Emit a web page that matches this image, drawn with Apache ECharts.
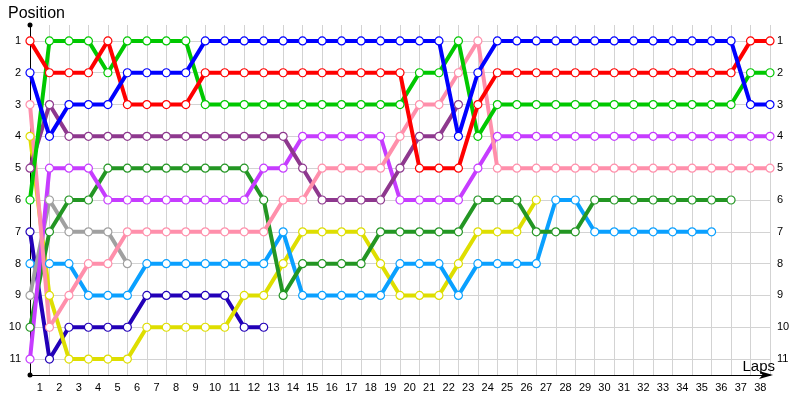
<!DOCTYPE html>
<html><head><meta charset="utf-8">
<script src="https://cdn.jsdelivr.net/npm/echarts@6/dist/echarts.min.js"></script>
<style>html,body{margin:0;padding:0;background:#fff}#c{width:800px;height:400px}</style>
</head><body><div id="c"></div><script>
const lapLabels = ['1','2','3','4','5','6','7','8','9','10','11','12','13','14','15','16','17','18','19','20','21','22','23','24','25','26','27','28','29','30','31','32','33','34','35','36','37','38'];
const positionLabels = ['1','2','3','4','5','6','7','8','9','10','11'];

// positions per lap, starting at lap 0
const indigo    = [7,11,10,10,10,10,9,9,9,9,9,10,10];
const yellow    = [4,9,11,11,11,11,10,10,10,10,10,9,9,8,7,7,7,7,8,9,9,9,8,7,7,7,6];
const lightBlue = [8,8,8,9,9,9,8,8,8,8,8,8,8,7,9,9,9,9,9,8,8,8,9,8,8,8,8,6,6,7,7,7,7,7,7,7];
const gray      = [9,6,7,7,7,8];
const darkGreen = [10,7,6,6,5,5,5,5,5,5,5,5,6,9,8,8,8,8,7,7,7,7,7,6,6,6,7,7,7,6,6,6,6,6,6,6,6];
const magenta   = [11,5,5,5,6,6,6,6,6,6,6,6,5,5,4,4,4,4,4,6,6,6,6,5,4,4,4,4,4,4,4,4,4,4,4,4,4,4,4];
const purple    = [5,3,4,4,4,4,4,4,4,4,4,4,4,4,5,6,6,6,6,5,4,4,3];
const pink      = [3,10,9,8,8,7,7,7,7,7,7,7,7,6,6,5,5,5,5,4,3,3,2,1,5,5,5,5,5,5,5,5,5,5,5,5,5,5,5];
const green     = [6,1,1,1,2,1,1,1,1,3,3,3,3,3,3,3,3,3,3,3,2,2,1,4,3,3,3,3,3,3,3,3,3,3,3,3,3,2,2];
const red       = [1,2,2,2,1,3,3,3,3,2,2,2,2,2,2,2,2,2,2,2,5,5,5,3,2,2,2,2,2,2,2,2,2,2,2,2,2,1,1];
const blue      = [2,4,3,3,3,2,2,2,2,1,1,1,1,1,1,1,1,1,1,1,1,1,4,2,1,1,1,1,1,1,1,1,1,1,1,1,1,3,3];

const drivers = [
  {data: indigo, color: '#2200b8'},
  {data: yellow, color: '#dede00'},
  {data: lightBlue, color: '#0aa0ff'},
  {data: gray, color: '#a0a0a0'},
  {data: darkGreen, color: '#239623'},
  {data: magenta, color: '#c63cff'},
  {data: purple, color: '#8e388e'},
  {data: pink, color: '#ff8fab'},
  {data: green, color: '#00c800'},
  {data: red, color: '#ff0000'},
  {data: blue, color: '#0000ff'}
];

const FONT = 'Liberation Sans';
const chart = echarts.init(document.getElementById('c'), null, {renderer: 'canvas'});
const series = drivers.map(d => ({
  type: 'line',
  xAxisIndex: 0, yAxisIndex: 0,
  data: d.data.map((p, i) => [i, p]),
  symbol: 'circle', symbolSize: 8, showAllSymbol: true,
  lineStyle: {color: d.color, width: 4},
  itemStyle: {color: '#ffffff', borderColor: d.color, borderWidth: 1.2},
  emphasis: {disabled: true},
  silent: true
}));

const yCommon = {
  type: 'value', min: 0.5, max: 11.5, interval: 0.5, inverse: true
};
const intFmt = v => (Math.abs(v - Math.round(v)) < 1e-6 && v >= 1 && v <= 11) ? positionLabels[Math.round(v) - 1] : '';

chart.setOption({
  animation: false,
  title: [
    {text: 'Position', left: 3, top: 1, textStyle: {fontFamily: FONT, fontSize: 16, fontWeight: 'normal', color: '#000'}},
    {text: 'Laps', right: 25, bottom: 26, padding: 0, textStyle: {fontFamily: FONT, fontSize: 15, fontWeight: 'normal', color: '#000'}}
  ],
  grid: {left: 30, right: 30, top: 25, bottom: 25, containLabel: false, outerBoundsMode: 'none'},
  xAxis: [
    {type: 'value', min: 0, max: 38, interval: 1, position: 'bottom',
     axisLine: {onZero: false, lineStyle: {color: '#000', width: 1}, symbol: ['none', 'arrow'], symbolSize: [6, 14], symbolOffset: [0, 3]},
     axisTick: {show: false}, axisLabel: {show: false},
     splitLine: {show: true, lineStyle: {color: '#d3d3d3', width: 1}}},
    {type: 'category', data: lapLabels, boundaryGap: true, position: 'bottom',
     axisLine: {show: false}, axisTick: {show: false}, splitLine: {show: false},
     axisLabel: {margin: 7, fontFamily: FONT, fontSize: 11, color: '#000', interval: 0}}
  ],
  yAxis: [
    Object.assign({}, yCommon, {position: 'left',
      axisLine: {onZero: false, lineStyle: {color: '#000', width: 1}, symbol: ['circle', 'circle'], symbolSize: [5, 5]},
      axisTick: {show: false},
      axisLabel: {formatter: intFmt, margin: 9, fontFamily: FONT, fontSize: 11, color: '#000'},
      splitLine: {show: true, lineStyle: {color: ['rgba(0,0,0,0)', '#d3d3d3'], width: 1}}}),
    Object.assign({}, yCommon, {position: 'right',
      axisLine: {show: false}, axisTick: {show: false}, splitLine: {show: false},
      axisLabel: {formatter: intFmt, margin: 7, fontFamily: FONT, fontSize: 11, color: '#000'}})
  ],
  series: series
});
</script></body></html>
